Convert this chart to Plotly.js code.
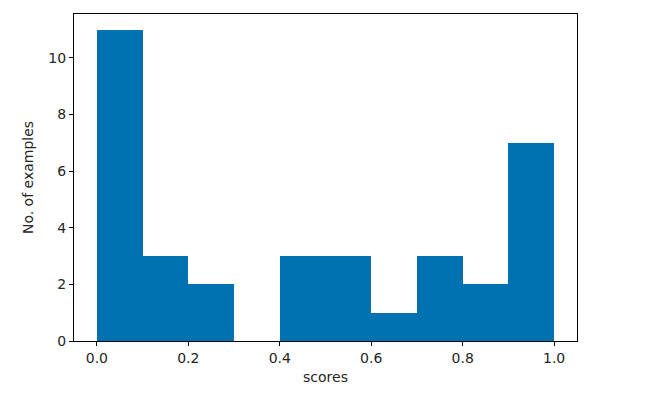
<!DOCTYPE html>
<html>
<head>
<meta charset="utf-8">
<script src="https://cdn.plot.ly/plotly-3.0.1.min.js"></script>
<style>html,body{margin:0;padding:0;background:#fff;}</style>
</head>
<body>
<div id="chart" style="width:663px;height:412px;"></div>
<script>
const binStarts = [0.0, 0.1, 0.2, 0.3, 0.4, 0.5, 0.6, 0.7, 0.8, 0.9];
const binWidth = 0.1;
const counts = [11, 3, 2, 0, 3, 3, 1, 3, 2, 7];
const xTicks = [0.0, 0.2, 0.4, 0.6, 0.8, 1.0];
const xTickLabels = ['0.0', '0.2', '0.4', '0.6', '0.8', '1.0'];
const yTicks = [0, 2, 4, 6, 8, 10];

const trace = {
  type: 'bar',
  x: binStarts,
  y: counts,
  width: binStarts.map(() => binWidth),
  offset: 0,
  marker: {color: '#0072B2', line: {width: 0}},
  hoverinfo: 'x+y'
};

const fnt = {family: 'DejaVu Sans', size: 14, color: '#262626'};

const axisCommon = {
  showline: true, mirror: true, linecolor: '#000', linewidth: 1,
  ticks: 'outside', ticklen: 4, tickwidth: 1, tickcolor: '#000',
  showgrid: false, zeroline: false,
  tickfont: fnt
};

const layout = {
  width: 663, height: 412,
  margin: {l: 74, r: 86, t: 14, b: 71},
  paper_bgcolor: '#fff', plot_bgcolor: '#fff',
  showlegend: false,
  bargap: 0,
  font: fnt,
  xaxis: Object.assign({}, axisCommon, {
    range: [-0.05, 1.05],
    tickvals: xTicks, ticktext: xTickLabels,
    title: {text: 'scores', font: fnt, standoff: 7}
  }),
  yaxis: Object.assign({}, axisCommon, {
    range: [0, 11.55],
    tickvals: yTicks,
    title: {text: 'No. of examples', font: fnt, standoff: 11}
  })
};

Plotly.newPlot('chart', [trace], layout, {displayModeBar: false, staticPlot: true});
</script>
</body>
</html>
